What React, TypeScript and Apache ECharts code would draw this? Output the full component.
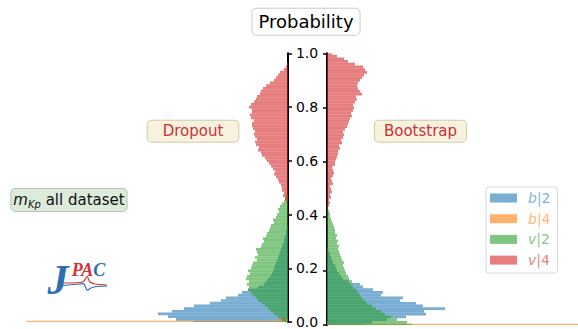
import React, { useEffect, useRef } from "react";
import * as echarts from "echarts";

// ---------- data ----------
const BIN_WIDTH = 0.01; // histogram bin width on the probability axis
const SERIES_NAMES = ["b|2", "b|4", "v|2", "v|4"];
const SERIES_COLORS = [
  "rgba(31,119,180,0.6)",
  "rgba(255,127,14,0.6)",
  "rgba(44,160,44,0.6)",
  "rgba(214,39,40,0.6)",
];
const Y_TICKS = [0, 0.2, 0.4, 0.6, 0.8, 1.0];

// Dropout (left side) — counts per bin, first bin index given by *_START
const DROPOUT_B2_START = 0;
const dropoutB2 = [95, 112, 120, 130, 116, 104, 94, 78, 67, 62, 50, 46, 40, 30, 24, 22, 20, 18, 16, 15, 14, 13, 12, 11, 10, 9, 8, 7, 6, 5, 4, 4, 3, 2, 2, 1];
const DROPOUT_B4_START = 0;
const dropoutB4 = [262, 9];
const DROPOUT_V2_START = 0;
const dropoutV2 = [5, 6, 10, 14, 17, 20, 23, 26, 30, 32, 35, 37, 40, 39, 41, 39, 42, 41, 38, 40, 37, 36, 35, 31, 33, 30, 31, 32, 27, 26, 24, 25, 22, 21, 19, 18, 17, 14, 15, 12, 11, 9, 10, 8, 6, 4, 3, 2];
const DROPOUT_V4_START = 45;
const dropoutV4 = [2, 3, 5, 4, 6, 6, 7, 9, 10, 12, 14, 13, 15, 17, 19, 21, 23, 26, 27, 30, 29, 32, 33, 31, 33, 34, 33, 35, 36, 36, 34, 37, 38, 36, 36, 39, 37, 34, 32, 31, 28, 27, 25, 22, 18, 14, 12, 10, 8, 4, 2, 1];

// Bootstrap (right side)
const BOOTSTRAP_B2_START = 0;
const bootstrapB2 = [35, 45, 60, 79, 99, 97, 118, 96, 89, 73, 76, 54, 56, 46, 36, 33, 22, 16, 14, 12, 10, 9, 8, 6, 5, 4, 3, 2, 1];
const BOOTSTRAP_B4_START = 0;
const bootstrapB4 = [400, 3];
const BOOTSTRAP_V2_START = 0;
const bootstrapV2 = [85, 80, 70, 64, 58, 54, 49, 45, 40, 38, 35, 33, 31, 29, 26, 24, 25, 22, 21, 19, 18, 17, 16, 17, 15, 14, 13, 12, 11, 12, 10, 11, 9, 10, 8, 8, 7, 6, 5, 4, 3, 3, 2, 1];
const BOOTSTRAP_V4_START = 43;
const bootstrapV4 = [1, 2, 3, 2, 4, 3, 5, 4, 3, 6, 5, 4, 6, 7, 6, 5, 8, 8, 9, 10, 11, 11, 13, 12, 15, 14, 16, 17, 16, 18, 20, 21, 22, 23, 25, 24, 26, 27, 26, 28, 30, 29, 35, 33, 31, 30, 31, 33, 35, 37, 40, 38, 36, 28, 21, 17, 10, 5];

const FONT = "DejaVu Sans";

function histSeries(
  name: string,
  color: string,
  start: number,
  counts: number[],
  side: number
) {
  const data = counts.map((c, i) => [(start + i) * BIN_WIDTH, c]);
  return {
    type: "custom",
    name,
    xAxisIndex: side,
    yAxisIndex: side,
    clip: true,
    itemStyle: { color },
    encode: { x: 1, y: 0 },
    data,
    renderItem: (_params: any, api: any) => {
      const center = api.value(0);
      const w = api.value(1);
      const a = api.coord([0, center - BIN_WIDTH / 2]);
      const b = api.coord([w, center + BIN_WIDTH / 2]);
      return {
        type: "rect",
        shape: {
          x: Math.min(a[0], b[0]),
          y: Math.min(a[1], b[1]),
          width: Math.abs(b[0] - a[0]),
          height: Math.abs(b[1] - a[1]),
        },
        style: { fill: color },
      };
    },
  };
}

export default function App() {
  const ref = useRef<HTMLDivElement>(null);

  useEffect(() => {
    if (!ref.current) return;
    const chart = echarts.init(ref.current, null, { renderer: "svg" });

    const gridTop = 53.3;
    const gridBottom = 4;

    const yAxisCommon = {
      type: "value",
      min: Y_TICKS[0],
      max: Y_TICKS[Y_TICKS.length - 1],
      interval: 0.2,
      splitLine: { show: false },
      axisLine: { show: true, lineStyle: { color: "#000", width: 2 } },
      axisTick: { show: true, length: 4, lineStyle: { color: "#000", width: 1.5 } },
    };

    const option: any = {
      animation: false,
      backgroundColor: "#ffffff",
      grid: [
        { left: 0, right: 290, top: gridTop, bottom: gridBottom },
        { left: 327, right: 0, top: gridTop, bottom: gridBottom },
      ],
      xAxis: [
        { type: "value", gridIndex: 0, min: 0, max: 288, inverse: true, show: false },
        { type: "value", gridIndex: 1, min: 0, max: 251, show: false },
      ],
      yAxis: [
        {
          ...yAxisCommon,
          gridIndex: 0,
          position: "right",
          axisLabel: {
            show: true,
            margin: 19,
            align: "center",
            color: "#000",
            fontFamily: FONT,
            fontSize: 14,
            formatter: (v: number) => v.toFixed(1),
          },
        },
        {
          ...yAxisCommon,
          gridIndex: 1,
          position: "left",
          axisLabel: { show: false },
        },
      ],
      legend: {
        data: SERIES_NAMES.map((n, i) => ({ name: n, textStyle: { color: SERIES_COLORS[i] } })),
        orient: "vertical",
        left: 486,
        top: 187,
        itemWidth: 27,
        itemHeight: 9,
        itemGap: 6.7,
        icon: "rect",
        selectedMode: false,
        backgroundColor: "#ffffff",
        borderColor: "#d8d8d8",
        borderWidth: 1,
        borderRadius: 3,
        padding: [4, 7, 6, 4],
        textStyle: {
          fontFamily: FONT,
          fontSize: 14,
          lineHeight: 14,
          rich: {
            i: { fontStyle: "italic", fontFamily: FONT, fontSize: 14, padding: [0, 0, 0, 6] },
            n: { fontFamily: FONT, fontSize: 14 },
          },
        },
        formatter: (name: string) => `{i|${name.slice(0, 1)}}{n|${name.slice(1)}}`,
      },
      series: [
        histSeries(SERIES_NAMES[0], SERIES_COLORS[0], DROPOUT_B2_START, dropoutB2, 0),
        histSeries(SERIES_NAMES[1], SERIES_COLORS[1], DROPOUT_B4_START, dropoutB4, 0),
        histSeries(SERIES_NAMES[2], SERIES_COLORS[2], DROPOUT_V2_START, dropoutV2, 0),
        histSeries(SERIES_NAMES[3], SERIES_COLORS[3], DROPOUT_V4_START, dropoutV4, 0),
        histSeries(SERIES_NAMES[0], SERIES_COLORS[0], BOOTSTRAP_B2_START, bootstrapB2, 1),
        histSeries(SERIES_NAMES[1], SERIES_COLORS[1], BOOTSTRAP_B4_START, bootstrapB4, 1),
        histSeries(SERIES_NAMES[2], SERIES_COLORS[2], BOOTSTRAP_V2_START, bootstrapV2, 1),
        histSeries(SERIES_NAMES[3], SERIES_COLORS[3], BOOTSTRAP_V4_START, bootstrapV4, 1),
      ],
      graphic: [
        {
          type: "text",
          x: 306,
          y: 21.7,
          z: 10,
          style: {
            text: "Probability",
            font: `18px "${FONT}"`,
            fill: "#000",
            align: "center",
            verticalAlign: "middle",
            backgroundColor: "#ffffff",
            borderColor: "#cccccc",
            borderWidth: 1,
            borderRadius: 4,
            padding: [4, 6, 4, 6],
          },
        },
        {
          type: "text",
          x: 193,
          y: 131.3,
          z: 10,
          style: {
            text: "Dropout",
            font: `15px "${FONT}"`,
            fill: "#cc2f3a",
            align: "center",
            verticalAlign: "middle",
            backgroundColor: "#f6f2dd",
            borderColor: "#d2ccab",
            borderWidth: 1,
            borderRadius: 4,
            padding: [3, 15, 3, 15],
          },
        },
        {
          type: "text",
          x: 420.5,
          y: 131.3,
          z: 10,
          style: {
            text: "Bootstrap",
            font: `15px "${FONT}"`,
            fill: "#cc2f3a",
            align: "center",
            verticalAlign: "middle",
            backgroundColor: "#f6f2dd",
            borderColor: "#d2ccab",
            borderWidth: 1,
            borderRadius: 4,
            padding: [3, 9, 3, 9],
          },
        },
        {
          type: "text",
          x: 69,
          y: 200,
          z: 10,
          style: {
            text: "{m|m}{s|Kp}{t| all dataset}",
            align: "center",
            verticalAlign: "middle",
            fill: "#111",
            backgroundColor: "#dcebdb",
            borderColor: "#b3c7b2",
            borderWidth: 1,
            borderRadius: 4,
            padding: [2, 2, 2, 2],
            rich: {
              m: { font: `italic 15px "${FONT}"`, fill: "#111" },
              s: { font: `italic 10px "${FONT}"`, fill: "#111", padding: [8, 0, 0, 0] },
              t: { font: `15px "${FONT}"`, fill: "#111" },
            },
          },
        },
        // JPAC logo
        {
          type: "text",
          x: 58,
          y: 280,
          z: 10,
          style: {
            text: "J",
            font: `italic bold 42px "Liberation Serif"`,
            fill: "#2f6db5",
            align: "center",
            verticalAlign: "middle",
          },
        },
        {
          type: "text",
          x: 88.5,
          y: 270,
          z: 10,
          style: {
            text: "{r|PA}{b|C}",
            align: "center",
            verticalAlign: "middle",
            rich: {
              r: { font: `italic bold 18px "Liberation Serif"`, fill: "#d2343a" },
              b: { font: `italic bold 18px "Liberation Serif"`, fill: "#2f6db5" },
            },
          },
        },
        {
          type: "polyline",
          z: 9,
          shape: {
            points: [[63, 283], [80, 282.5], [84, 281], [87, 276.5], [90, 282], [95, 284], [107, 285]],
            smooth: 0.3,
          },
          style: { stroke: "#d2343a", lineWidth: 1.2, fill: "none" },
        },
        {
          type: "polyline",
          z: 9,
          shape: {
            points: [[63, 285.5], [80, 284], [84, 284], [87, 290], [91, 288], [96, 286.5], [107, 286]],
            smooth: 0.3,
          },
          style: { stroke: "#2f6db5", lineWidth: 1.2, fill: "none" },
        },
      ],
    };

    chart.setOption(option);
    return () => chart.dispose();
  }, []);

  return (
    <div
      ref={ref}
      style={{ position: "absolute", left: 0, top: 0, width: 578, height: 329 }}
    />
  );
}
